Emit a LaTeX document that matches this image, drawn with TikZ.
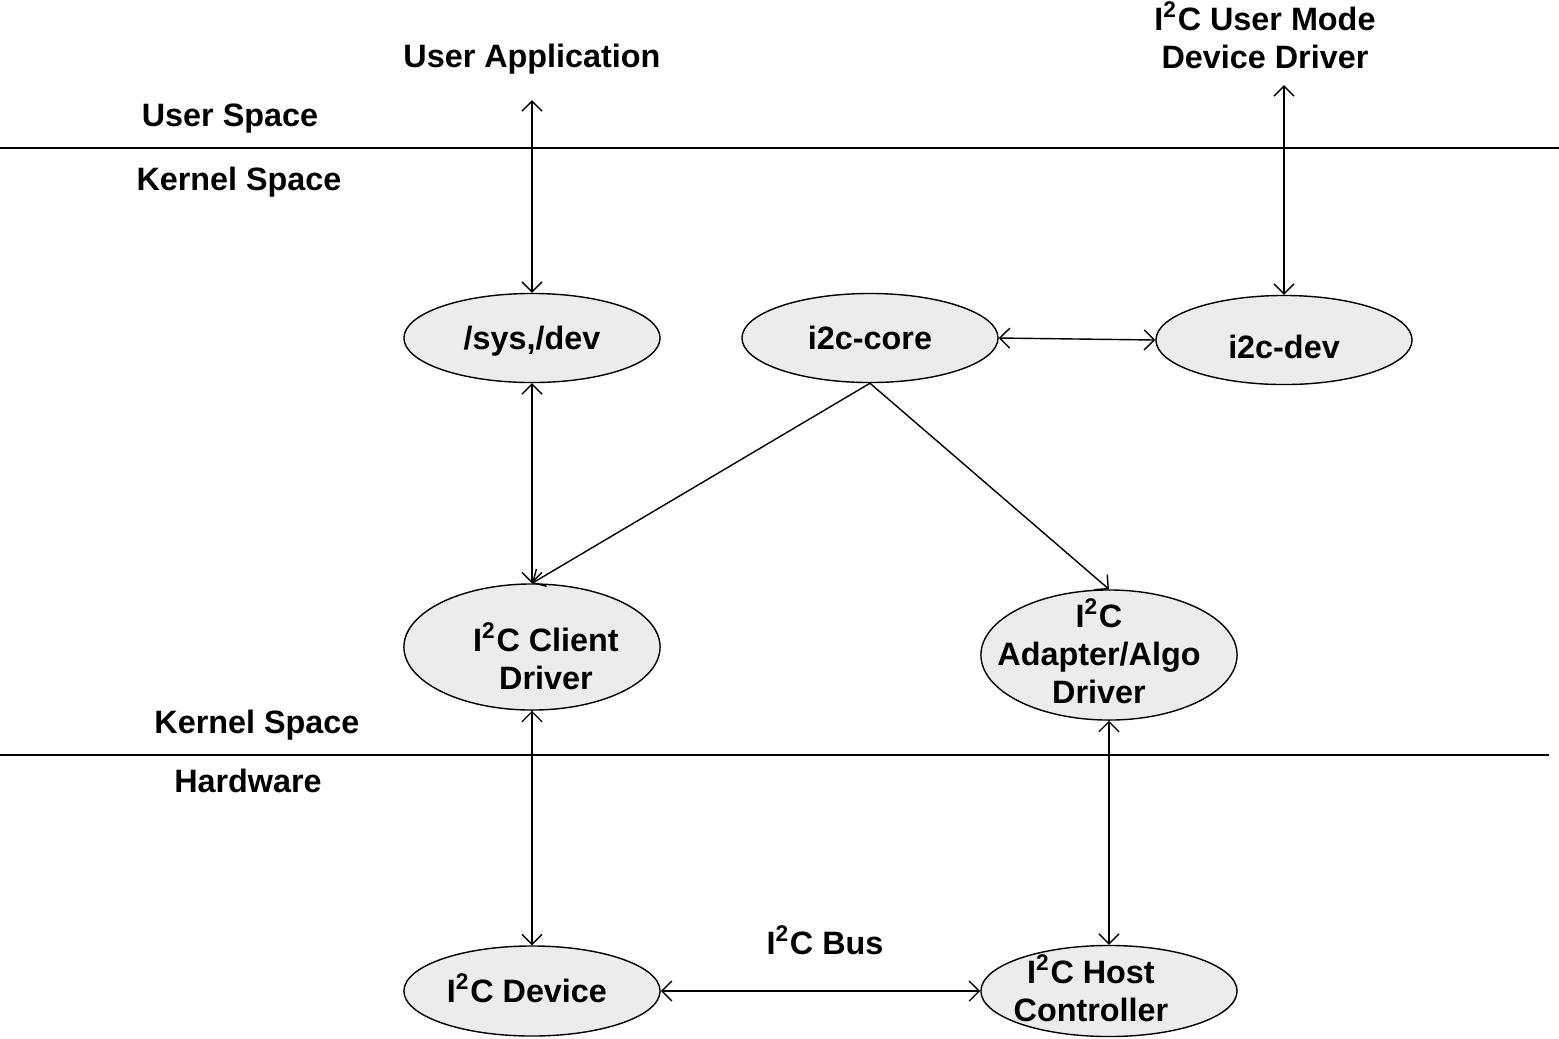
\documentclass[tikz,border=0pt]{standalone}
\usepackage{fontspec}
\setmainfont{Liberation Sans}
\usetikzlibrary{shapes.geometric,arrows.meta,positioning}

\begin{document}
\begin{tikzpicture}[x=0.01cm,y=-0.01cm,>={Straight Barb[length=1mm,width=2mm]},
  blob/.style = {draw, ellipse, fill=gray!15, minimum width=2.56cm, minimum height=0.89cm, inner sep=0pt},
  txt/.style = {font=\fontsize{9.2}{10.8}\selectfont\bfseries, align=center, inner sep=0pt},
  sep/.style = {line width=0.6pt},]
\useasboundingbox (0,0) rectangle (1559,1038);
% layers
\draw[sep] (0,148) -- (1559,148);
\draw[sep] (0,755) -- (1549,755);
\node[txt] (us) at (230,119) {User Space};
\node[txt] (ks1) at (239,182) {Kernel Space};
\node[txt] (ks2) at (257,725) {Kernel Space};
\node[txt] (hw) at (248,781) {Hardware};
% user side
\node[txt] (app) at (532,59) {User Application};
\node[txt] (umd) at (1265,35) {I\textsuperscript{2}C User Mode\\Device Driver};
\coordinate (appin) at (532,100);
\coordinate (umdin) at (1284,85);
% kernel blocks
\node[blob,label={[txt,yshift=-0.03cm]center:/sys,/dev}] (sys) at (532,338) {};
\node[blob,label={[txt]center:i2c-core}] (core) at (870,338) {};
\node[blob,label={[txt,yshift=-0.07cm]center:i2c-dev}] (dev) at (1284,340) {};
\node[blob,minimum height=1.26cm,label={[txt,xshift=0.14cm,yshift=-0.09cm]center:I\textsuperscript{2}C Client\\Driver}] (client) at (532,647) {};
\node[blob,minimum height=1.3cm,label={[txt,xshift=-0.1cm,yshift=0.04cm]center:I\textsuperscript{2}C\\Adapter/Algo\\Driver}] (adapter) at (1109,655) {};
% hardware
\node[blob,minimum height=0.9cm,label={[txt,xshift=-0.05cm,yshift=0.03cm]center:I\textsuperscript{2}C Device}] (device) at (532,991) {};
\node[blob,minimum height=0.91cm,label={[txt,xshift=-0.18cm,yshift=0.03cm]center:I\textsuperscript{2}C Host\\Controller}] (host) at (1109,991) {};
\node[txt] (bus) at (825,940) {I\textsuperscript{2}C Bus};
% connections
\draw[<->] (appin) -- (sys.north);
\draw[<->] (umdin) -- (dev.north);
\draw[<->] (core.east) -- (dev.west);
\draw[<->] (sys) -- (client);
\draw[->] (core.south) -- (client.north);
\draw[->] (core.south) -- (adapter.north);
\draw[<->] (client) -- (device);
\draw[<->] (adapter) -- (host);
\draw[<->] (device) -- (host);
\end{tikzpicture}
\end{document}
